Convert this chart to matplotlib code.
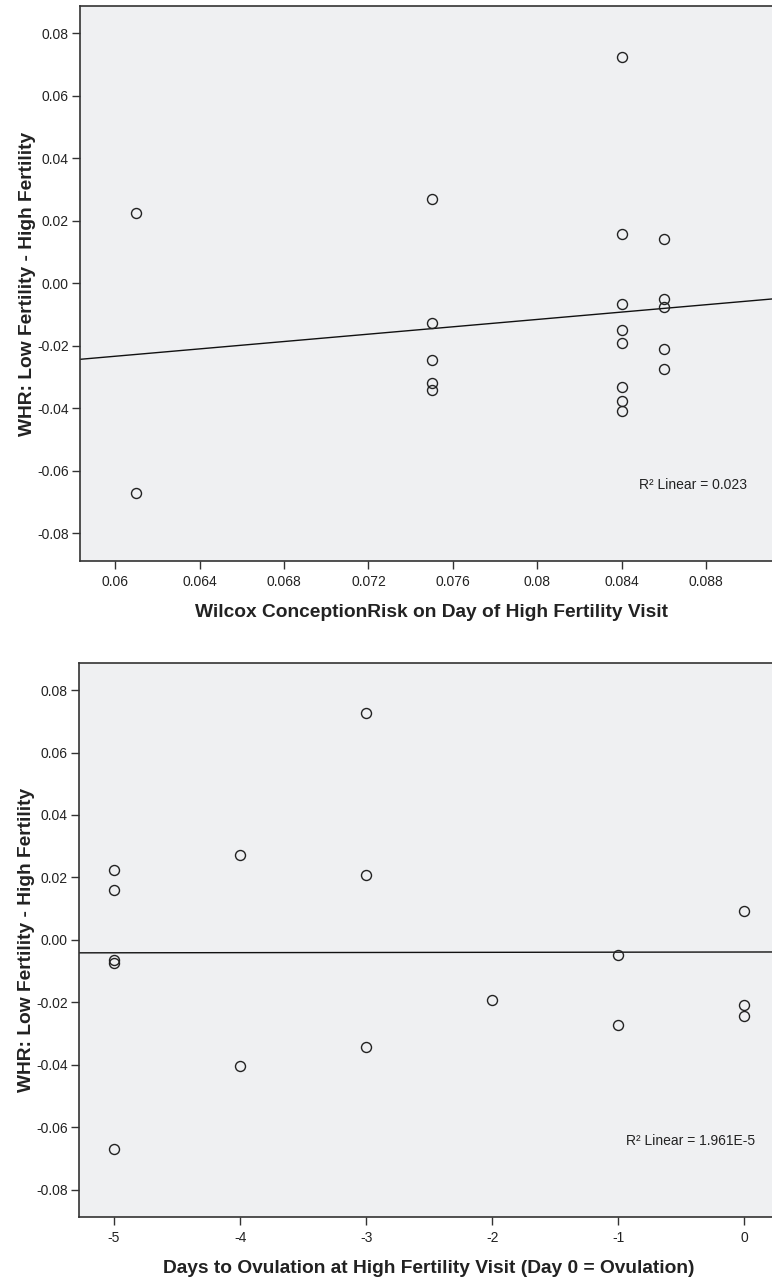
import matplotlib
matplotlib.use("Agg")
import matplotlib.pyplot as plt
import numpy as np

plt.rcParams['font.family'] = ['Liberation Sans', 'DejaVu Sans']

# ---- Panel 1 data: Wilcox conception risk vs WHR difference ----
risk_x = [0.061, 0.061,
          0.075, 0.075, 0.075, 0.075, 0.075,
          0.084, 0.084, 0.084, 0.084, 0.084, 0.084, 0.084, 0.084,
          0.086, 0.086, 0.086, 0.086, 0.086]
risk_y = [0.0225, -0.0670,
          0.0271, -0.0126, -0.0244, -0.0320, -0.0341,
          0.0724, 0.0158, -0.0066, -0.0149, -0.0192, -0.0331, -0.0376, -0.0408,
          0.0141, -0.0049, -0.0075, -0.0210, -0.0274]
risk_fit = (-0.05866, 0.589)          # intercept, slope
risk_r2 = "R² Linear = 0.023"
risk_xticks = [0.060, 0.064, 0.068, 0.072, 0.076, 0.080, 0.084, 0.088]
risk_xticklabels = ["0.06", "0.064", "0.068", "0.072", "0.076", "0.08", "0.084", "0.088"]

# ---- Panel 2 data: days to ovulation vs WHR difference ----
days_x = [-5, -5, -5, -5, -5,
          -4, -4,
          -3, -3, -3,
          -2,
          -1, -1,
          0, 0, 0]
days_y = [0.0225, 0.0160, -0.0065, -0.0073, -0.0669,
          0.0272, -0.0404,
          0.0726, 0.0208, -0.0342,
          -0.0193,
          -0.0049, -0.0274,
          0.0091, -0.0208, -0.0243]
days_fit = (-0.0039, 0.00005)
days_r2 = "R² Linear = 1.961E-5"
days_xticks = [-5, -4, -3, -2, -1, 0]
days_xticklabels = ["-5", "-4", "-3", "-2", "-1", "0"]

yticks = [0.08, 0.06, 0.04, 0.02, 0.00, -0.02, -0.04, -0.06, -0.08]
yticklabels = ["0.08", "0.06", "0.04", "0.02", "0.00", "-0.02", "-0.04", "-0.06", "-0.08"]
ylabel = "WHR: Low Fertility - High Fertility"

W, H = 772, 1278
fig = plt.figure(figsize=(W / 100, H / 100), dpi=100)
fig.patch.set_facecolor('white')

def px_axes(left, top, right, bottom):
    return fig.add_axes([left / W, 1 - bottom / H, (right - left) / W, (bottom - top) / H])

ax1 = px_axes(80, 6, 772, 561)
ax2 = px_axes(79, 663, 772, 1217)

panels = [
    (ax1, risk_x, risk_y, risk_fit, risk_r2, risk_xticks, risk_xticklabels,
     (0.05834, 0.09111), "Wilcox ConceptionRisk on Day of High Fertility Visit", (0.808, 0.137), 0.508),
    (ax2, days_x, days_y, days_fit, days_r2, days_xticks, days_xticklabels,
     (-5.278, 0.22), "Days to Ovulation at High Fertility Visit (Day 0 = Ovulation)", (0.789, 0.138), 0.504),
]

for ax, xs, ys, fit, r2, xt, xtl, xlim, xlabel, r2pos, xlab_x in panels:
    ax.set_facecolor('#eff0f2')
    ax.set_xlim(*xlim)
    ax.set_ylim(-0.0888, 0.0887)
    ax.plot(xs, ys, linestyle='none', marker='o', markersize=7.2,
            markerfacecolor='none', markeredgecolor='#222222', markeredgewidth=1.0, zorder=3)
    lx = np.array(xlim)
    ax.plot(lx, fit[0] + fit[1] * lx, color='#111111', linewidth=1.0, zorder=2)
    ax.text(r2pos[0], r2pos[1], r2, transform=ax.transAxes, fontsize=10,
            color='#222222', ha='left', va='center')
    ax.set_xticks(xt)
    ax.set_xticklabels(xtl)
    ax.set_yticks(yticks)
    ax.set_yticklabels(yticklabels)
    ax.tick_params(axis='both', direction='out', length=6, width=1.0, color='#333333',
                   labelsize=10, labelcolor='#222222', pad=2)
    ax.tick_params(axis='x', pad=4)
    for side in ['left', 'bottom', 'top']:
        ax.spines[side].set_color('#333333')
        ax.spines[side].set_linewidth(1.2)
    ax.spines['right'].set_visible(False)
    ax.set_xlabel(xlabel, fontsize=13.8, fontweight='bold', color='#222222', labelpad=10.6)
    ax.xaxis.label.set_x(xlab_x)
    ax.set_ylabel(ylabel, fontsize=13.8, fontweight='bold', color='#222222', labelpad=1)

fig.savefig("out.png", dpi=100, facecolor='white')
